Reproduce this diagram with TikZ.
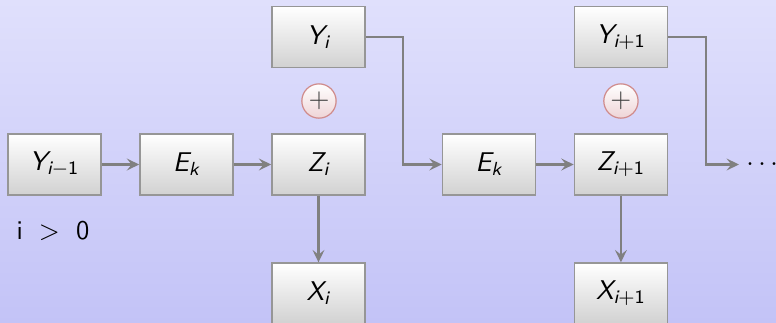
\documentclass[tikz,border=0pt]{standalone}
\usepackage{amsmath}
\usepackage{xcolor}
\usepackage{tikz}
\usetikzlibrary{arrows.meta,calc}

% Sans serif letters in math, as on a beamer slide.
\DeclareMathAlphabet{\mathsfsl}{TU}{lmss}{m}{sl}
\DeclareMathAlphabet{\mathsfup}{TU}{lmss}{m}{n}
\newcommand{\sv}[1]{\mathsfsl{#1}}
\newcommand{\sd}[1]{\mathsfup{#1}}

\definecolor{bgtop}{RGB}{224,224,252}
\definecolor{bgbottom}{RGB}{195,195,247}
\definecolor{boxline}{RGB}{150,150,150}
\definecolor{wireline}{RGB}{128,128,128}
\definecolor{plusline}{RGB}{208,140,140}
\definecolor{plusbottom}{RGB}{238,212,214}

\begin{document}
\begin{tikzpicture}[
  x=1cm,
  y=1cm,
  >={Stealth[length=5pt,width=4.8pt,inset=1.9pt]},
  every node/.style={font=\sffamily\fontsize{11}{13.5}\selectfont},
  blockbox/.style={draw=boxline, line width=0.6pt, top color=white, bottom color=black!18,
    minimum width=1.33cm, minimum height=0.87cm, inner sep=0pt},
  plusnode/.style={circle, draw=plusline, line width=0.5pt, top color=white, bottom color=plusbottom,
    minimum size=0.49cm, inner sep=0pt, text=black!75},
  wire/.style={draw=wireline, line width=0.95pt}
]

% Page: 776 x 323 px at 70 px per cm.
\useasboundingbox (0,0) rectangle (11.086,-4.614);
\shade[top color=bgtop, bottom color=bgbottom] (0,0) rectangle (11.086,-4.614);

% First stage.
\node[blockbox] (ym1) at (0.779,-2.35) {$\sv{Y}_{\sv{i}-\sd{1}}$};
\node[blockbox] (e1)  at (2.664,-2.35) {$\sv{E}_{\sv{k}}$};
\node[blockbox] (z1)  at (4.550,-2.35) {$\sv{Z}_{\sv{i}}$};
\node[blockbox] (y1)  at (4.550,-0.529) {$\sv{Y}_{\sv{i}}$};
\node[blockbox] (x1)  at (4.550,-4.193) {$\sv{X}_{\sv{i}}$};
\node[plusnode] (p1)  at (4.557,-1.443) {$+$};

% Second stage.
\node[blockbox] (e2) at (6.986,-2.35) {$\sv{E}_{\sv{k}}$};
\node[blockbox] (z2) at (8.871,-2.35) {$\sv{Z}_{\sv{i}+\sd{1}}$};
\node[blockbox] (y2) at (8.871,-0.529) {$\sv{Y}_{\sv{i}+\sd{1}}$};
\node[blockbox] (x2) at (8.871,-4.193) {$\sv{X}_{\sv{i}+\sd{1}}$};
\node[plusnode] (p2) at (8.871,-1.443) {$+$};

% Condition and continuation.
\node (cond) at (0.757,-3.30) {i\hspace{6.6pt}$>$\hspace{6.6pt}0};
\coordinate (bend1) at (5.757,0);
\coordinate (bend2) at (10.086,0);
\coordinate (tail) at (10.557,-2.35);
\node[anchor=west, inner sep=0pt] (more) at ($(tail)+(0.10,0)$) {$\ldots$};

% Connectors.
\draw[wire,->] (ym1) -- (e1);
\draw[wire,->] (e1) -- (z1);
\draw[wire,->] (e2) -- (z2);
\foreach \s/\t in {z1/x1,z2/x2} {
  \draw[wire,->] (\s) -- (\t);
}
\draw[wire,->] (y1.east) -- (bend1 |- y1.east) -- (bend1 |- e2.west) -- (e2.west);
\draw[wire,->] (y2.east) -- (bend2 |- y2.east) -- (bend2 |- tail) -- (tail);
\end{tikzpicture}
\end{document}
